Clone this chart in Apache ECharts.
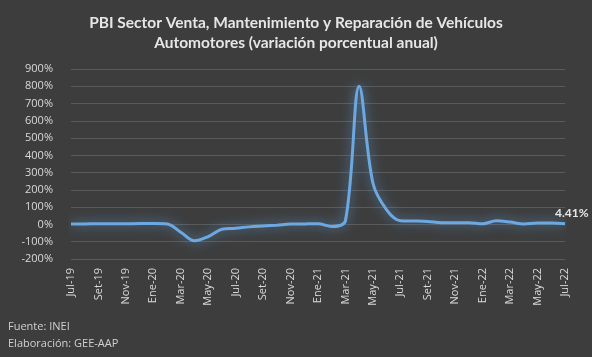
<!DOCTYPE html>
<html><head><meta charset="utf-8">
<script src="https://cdn.jsdelivr.net/npm/echarts@6/dist/echarts.min.js"></script>
<style>html,body{margin:0;padding:0;background:#3d3d3d;}#c{width:592px;height:357px;}</style>
</head><body><div id="c"></div>
<script>
const categories = ['Jul-19','Ago-19','Set-19','Oct-19','Nov-19','Dic-19','Ene-20','Feb-20','Mar-20','Abr-20','May-20','Jun-20','Jul-20','Ago-20','Set-20','Oct-20','Nov-20','Dic-20','Ene-21','Feb-21','Mar-21','Abr-21','May-21','Jun-21','Jul-21','Ago-21','Set-21','Oct-21','Nov-21','Dic-21','Ene-22','Feb-22','Mar-22','Abr-22','May-22','Jun-22','Jul-22'];
const values = [3,3,4,4,4,5,5,3,-45,-95,-70,-28,-22,-14,-9,-4,2,3,4,-12,22,800,240,85,22,20,17,10,10,10,4,21,14,3,8,8,4.41];
const yTicks = {min:-200, max:900, interval:100};
const lastLabel = '4.41%';

const chart = echarts.init(document.getElementById('c'));
const font = 'Lato, "Open Sans", sans-serif';
const axFont = '"Open Sans", sans-serif';
chart.setOption({
  backgroundColor:'#3d3d3d',
  animation:false,
  title:{
    text:'PBI Sector Venta, Mantenimiento y Reparación de Vehículos\nAutomotores (variación porcentual anual)',
    left:'center', top:8,
    textStyle:{color:'#e6e6e6', fontSize:15.5, fontWeight:'bold', fontFamily:font, lineHeight:20}
  },
  graphic:[
    {type:'text', left:8, top:318, style:{text:'Fuente: INEI\nElaboración: GEE-AAP', fill:'#d0d0d0', font:'11px '+axFont, lineHeight:17}}
  ],
  grid:{left:71, right:27, top:69, bottom:98},
  xAxis:{
    type:'category', data:categories, boundaryGap:false,
    axisLine:{show:false}, axisTick:{show:false},
    axisLabel:{rotate:90, interval:1, color:'#d9d9d9', fontSize:11, fontFamily:axFont, margin:9}
  },
  yAxis:{
    type:'value', min:yTicks.min, max:yTicks.max, interval:yTicks.interval,
    axisLine:{show:false}, axisTick:{show:false},
    splitLine:{lineStyle:{color:'#5a5a5a', width:1}},
    axisLabel:{formatter:'{value}%', color:'#d9d9d9', fontSize:11, fontFamily:axFont, margin:18}
  },
  series:[{
    type:'line', data:values, smooth:0.35, symbol:'none',
    lineStyle:{color:'#6ea8e0', width:3, shadowColor:'rgba(91,155,213,0.9)', shadowBlur:12},
    endLabel:{show:true, formatter:lastLabel, color:'#e6e6e6', fontSize:12, fontWeight:'bold', fontFamily:font, offset:[-18,-11]}
  }]
});
</script></body></html>
